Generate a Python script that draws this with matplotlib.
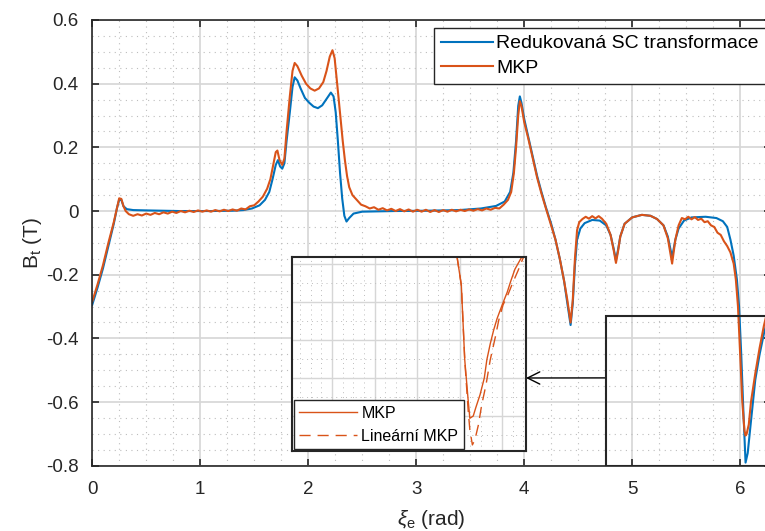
import numpy as np
import matplotlib
matplotlib.use('Agg')
import matplotlib.pyplot as plt
from matplotlib.patches import Rectangle
from matplotlib.ticker import MultipleLocator

plt.rcParams['font.family'] = ['Liberation Sans', 'DejaVu Sans']
plt.rcParams['mathtext.fontset'] = 'custom'
plt.rcParams['mathtext.rm'] = 'Liberation Sans'
plt.rcParams['mathtext.it'] = 'Liberation Sans:italic'

# Redukovana SC transformace (modra)
sc_x = [0.00, 0.05, 0.10, 0.15, 0.20, 0.23, 0.25, 0.27, 0.29, 0.32, 0.38, 0.50, 0.80, 1.10, 1.30,
        1.40, 1.48, 1.55, 1.60, 1.64, 1.67, 1.70, 1.72, 1.74, 1.76, 1.78, 1.80, 1.83, 1.855, 1.875,
        1.90, 1.93, 1.97, 2.01, 2.05, 2.09, 2.13, 2.17, 2.21, 2.235, 2.255, 2.275, 2.295, 2.315,
        2.335, 2.355, 2.38, 2.42, 2.50, 2.80, 3.10, 3.40, 3.60, 3.74, 3.82, 3.87, 3.90, 3.925,
        3.945, 3.96, 3.975, 4.00, 4.04, 4.08, 4.12, 4.16, 4.20, 4.25, 4.29, 4.33, 4.37, 4.40,
        4.43, 4.45, 4.47, 4.49, 4.52, 4.56, 4.63, 4.70, 4.76, 4.80, 4.83, 4.85, 4.87, 4.89, 4.93,
        5.00, 5.09, 5.17, 5.23, 5.29, 5.33, 5.37, 5.40, 5.43, 5.48, 5.55, 5.68, 5.78, 5.84, 5.88,
        5.91, 5.94, 5.97, 5.99, 6.01, 6.03, 6.05, 6.07, 6.10, 6.14, 6.18, 6.22, 6.2832]
sc_y = [-0.295, -0.24, -0.18, -0.11, -0.04, 0.01, 0.035, 0.035, 0.015, 0.006, 0.003, 0.002, 0.0, 0.0, 0.001,
        0.003, 0.008, 0.018, 0.035, 0.06, 0.10, 0.145, 0.16, 0.14, 0.133, 0.15, 0.22, 0.31, 0.39, 0.42,
        0.41, 0.385, 0.355, 0.34, 0.328, 0.323, 0.332, 0.352, 0.372, 0.36, 0.31, 0.22, 0.12, 0.04,
        -0.015, -0.033, -0.022, -0.008, -0.002, 0.0, 0.001, 0.003, 0.008, 0.016, 0.03, 0.06, 0.12, 0.22,
        0.33, 0.36, 0.34, 0.29, 0.23, 0.17, 0.11, 0.06, 0.013, -0.04, -0.09, -0.15, -0.22, -0.29,
        -0.358, -0.29, -0.17, -0.09, -0.055, -0.038, -0.028, -0.03, -0.045, -0.075, -0.12, -0.155, -0.12, -0.08, -0.04,
        -0.02, -0.012, -0.015, -0.025, -0.045, -0.08, -0.145, -0.09, -0.055, -0.03, -0.02, -0.018, -0.022, -0.032, -0.05,
        -0.09, -0.14, -0.215, -0.30, -0.45, -0.63, -0.79, -0.76, -0.66, -0.53, -0.45, -0.385, -0.30]

# MKP (oranzova)
mkp_x = [0.00, 0.05, 0.10, 0.15, 0.20, 0.23, 0.25, 0.27, 0.29, 0.31, 0.34, 0.38, 0.42, 0.46, 0.50,
         0.54, 0.58, 0.62, 0.66, 0.70, 0.74, 0.78, 0.82, 0.86, 0.90, 0.94, 0.98, 1.02, 1.06, 1.10,
         1.14, 1.18, 1.22, 1.26, 1.30, 1.34, 1.38, 1.42, 1.46, 1.50, 1.54, 1.58, 1.62, 1.65, 1.68,
         1.70, 1.715, 1.735, 1.76, 1.78, 1.80, 1.83, 1.855, 1.875, 1.90, 1.94, 1.98, 2.02, 2.06, 2.10,
         2.14, 2.17, 2.20, 2.225, 2.245, 2.26, 2.28, 2.30, 2.32, 2.34, 2.36, 2.38, 2.41, 2.45, 2.49,
         2.53, 2.57, 2.61, 2.65, 2.69, 2.73, 2.77, 2.81, 2.85, 2.89, 2.93, 2.97, 3.01, 3.05, 3.09,
         3.13, 3.17, 3.21, 3.25, 3.29, 3.33, 3.37, 3.41, 3.45, 3.49, 3.53, 3.57, 3.61, 3.65, 3.69,
         3.73, 3.77, 3.81, 3.85, 3.88, 3.905, 3.925, 3.945, 3.96, 3.975, 4.00, 4.04, 4.08, 4.12, 4.16,
         4.20, 4.25, 4.29, 4.33, 4.37, 4.40, 4.43, 4.45, 4.47, 4.49, 4.51, 4.54, 4.57, 4.60, 4.63,
         4.66, 4.69, 4.72, 4.76, 4.80, 4.83, 4.85, 4.87, 4.89, 4.93, 5.00, 5.09, 5.17, 5.23, 5.29,
         5.33, 5.37, 5.40, 5.43, 5.46, 5.49, 5.52, 5.55, 5.58, 5.61, 5.64, 5.67, 5.70, 5.73, 5.76,
         5.79, 5.82, 5.85, 5.88, 5.91, 5.94, 5.96, 5.98, 6.00, 6.02, 6.04, 6.05, 6.06, 6.08, 6.10,
         6.14, 6.18, 6.22, 6.2832]
mkp_y = [-0.285, -0.23, -0.17, -0.10, -0.035, 0.01, 0.04, 0.038, 0.015, 0.0, -0.01, -0.015, -0.01, -0.014, -0.008,
         -0.012, -0.006, -0.01, -0.004, -0.008, -0.002, -0.006, 0.0, -0.004, 0.001, -0.003, 0.002, -0.002, 0.002, -0.002,
         0.003, -0.001, 0.004, 0.0, 0.005, 0.001, 0.008, 0.005, 0.015, 0.018, 0.03, 0.045, 0.07, 0.10, 0.15,
         0.185, 0.19, 0.16, 0.145, 0.165, 0.25, 0.36, 0.44, 0.465, 0.455, 0.425, 0.40, 0.385, 0.378, 0.385,
         0.405, 0.44, 0.485, 0.505, 0.48, 0.43, 0.36, 0.29, 0.22, 0.16, 0.11, 0.075, 0.05, 0.035, 0.02,
         0.015, 0.008, 0.012, 0.004, 0.009, 0.002, 0.007, 0.0, 0.006, -0.001, 0.005, -0.002, 0.004, -0.002, 0.004,
         -0.003, 0.003, -0.003, 0.003, -0.002, 0.004, -0.001, 0.004, 0.0, 0.005, 0.001, 0.006, 0.002, 0.008, 0.004,
         0.01, 0.008, 0.02, 0.035, 0.06, 0.12, 0.20, 0.30, 0.345, 0.33, 0.28, 0.225, 0.165, 0.105, 0.055,
         0.01, -0.045, -0.09, -0.15, -0.22, -0.28, -0.35, -0.28, -0.15, -0.06, -0.035, -0.025, -0.018, -0.024, -0.016,
         -0.023, -0.016, -0.024, -0.04, -0.075, -0.125, -0.163, -0.125, -0.08, -0.04, -0.02, -0.012, -0.015, -0.025, -0.045,
         -0.085, -0.165, -0.09, -0.045, -0.022, -0.026, -0.018, -0.026, -0.019, -0.028, -0.024, -0.035, -0.032, -0.045, -0.05,
         -0.068, -0.075, -0.095, -0.11, -0.13, -0.165, -0.215, -0.30, -0.45, -0.60, -0.69, -0.705, -0.70, -0.67, -0.60,
         -0.51, -0.43, -0.36, -0.27]

# detail minima: MKP vs linearni MKP
det_mkp_x = [6.097, 6.102, 6.106, 6.110, 6.112, 6.116, 6.119, 6.124, 6.129, 6.132, 6.136, 6.140,
             6.144, 6.150, 6.156, 6.160, 6.165, 6.169, 6.173]
det_mkp_y = [-0.541, -0.578, -0.676, -0.729, -0.753, -0.750, -0.739, -0.722, -0.700, -0.676, -0.655, -0.637,
             -0.622, -0.604, -0.587, -0.573, -0.557, -0.549, -0.541]
det_lin_x = [6.097, 6.102, 6.106, 6.110, 6.112, 6.115, 6.118, 6.122, 6.126, 6.131, 6.136, 6.142,
             6.146, 6.151, 6.157, 6.162, 6.169, 6.174, 6.178]
det_lin_y = [-0.541, -0.578, -0.676, -0.742, -0.768, -0.788, -0.781, -0.762, -0.735, -0.709, -0.676, -0.646,
             -0.624, -0.604, -0.590, -0.576, -0.558, -0.544, -0.535]

modra = '#0072BD'
oranz = '#D95319'
tmava = '#262626'

fig = plt.figure(figsize=(7.65, 5.31), dpi=100)
ax = fig.add_axes([0.1205, 0.1228, 0.887, 0.8396])
ax.plot(sc_x, sc_y, color=modra, lw=1.5, label='Redukovaná SC transformace')
ax.plot(mkp_x, mkp_y, color=oranz, lw=1.5, label='MKP')
ax.set_xlim(0, 2 * np.pi)
ax.set_ylim(-0.8, 0.6)
ax.xaxis.set_major_locator(MultipleLocator(1))
ax.xaxis.set_minor_locator(MultipleLocator(0.25))
ax.yaxis.set_major_locator(MultipleLocator(0.2))
ax.yaxis.set_minor_locator(MultipleLocator(0.05))
ax.set_yticks([0.6, 0.4, 0.2, 0, -0.2, -0.4, -0.6, -0.8])
ax.set_yticklabels(['0.6', '0.4', '0.2', '0', '-0.2', '-0.4', '-0.6', '-0.8'])
ax.grid(which='major', color='#d6d6d6', lw=1.2)
ax.grid(which='minor', color='#bdbdbd', lw=0.8, ls=(0, (1, 4)))
ax.tick_params(which='both', direction='in', top=True, right=True, colors=tmava,
               labelsize=13.5, length=5, width=1.2)
ax.tick_params(axis='x', pad=11)
ax.tick_params(axis='y', pad=10)
ax.tick_params(which='minor', length=0)
for s in ax.spines.values():
    s.set_color(tmava)
    s.set_linewidth(1.2)
ax.set_xlabel(r'$\xi_{\rm e}$ (rad)', fontsize=15, color=tmava, labelpad=7)
ax.set_ylabel(r'B$_{\rm t}$ (T)', fontsize=15, color=tmava, labelpad=1)

leg = ax.legend(loc='upper left', bbox_to_anchor=(434 / 765, 1 - 28 / 531), bbox_transform=fig.transFigure,
                fontsize=14, fancybox=False, framealpha=1, edgecolor=tmava, handlelength=2.7,
                borderaxespad=0, borderpad=0.35, labelspacing=0.35, handletextpad=0.15)
leg.get_frame().set_linewidth(1.0)

# obdelnik oblasti detailu
rect = Rectangle((4.755, -0.8), 2.0, 0.47, fill=False, ec=tmava, lw=1.5, zorder=5)
ax.add_patch(rect)

# detail
ins = fig.add_axes([292 / 765, 1 - 451 / 531, 234 / 765, 194 / 531])
ins.plot(det_mkp_x, det_mkp_y, color=oranz, lw=1.0, label='MKP')
ins.plot(det_lin_x, det_lin_y, color=oranz, lw=1.0, ls=(0, (8, 5)), label='Lineární MKP')
ins.set_xlim(5.903, 6.178)
ins.set_ylim(-0.796, -0.541)
ins.xaxis.set_major_locator(MultipleLocator(0.05))
ins.xaxis.set_minor_locator(MultipleLocator(0.0125))
ins.yaxis.set_major_locator(MultipleLocator(0.05))
ins.yaxis.set_minor_locator(MultipleLocator(0.025))
ins.grid(which='major', color='#d6d6d6', lw=1.0)
ins.grid(which='minor', color='#bdbdbd', lw=0.7, ls=(0, (1, 4)))
ins.tick_params(which='both', length=0, labelbottom=False, labelleft=False)
for s in ins.spines.values():
    s.set_color(tmava)
    s.set_linewidth(1.5)
leg2 = ins.legend(loc='lower left', fontsize=11.5, fancybox=False, framealpha=1, edgecolor=tmava,
                  handlelength=3.6, borderaxespad=0.1, handletextpad=0.3, borderpad=0.35)
leg2.get_frame().set_linewidth(1.0)

# sipka k detailu
ax.annotate('', xy=(1.0, (451 - 378) / 194), xycoords=ins.transAxes,
            xytext=(4.755, -0.524), textcoords='data',
            arrowprops=dict(arrowstyle='->', color='black', lw=1.0, mutation_scale=22,
                            shrinkA=0, shrinkB=0))

fig.savefig('out.png', dpi=100)
